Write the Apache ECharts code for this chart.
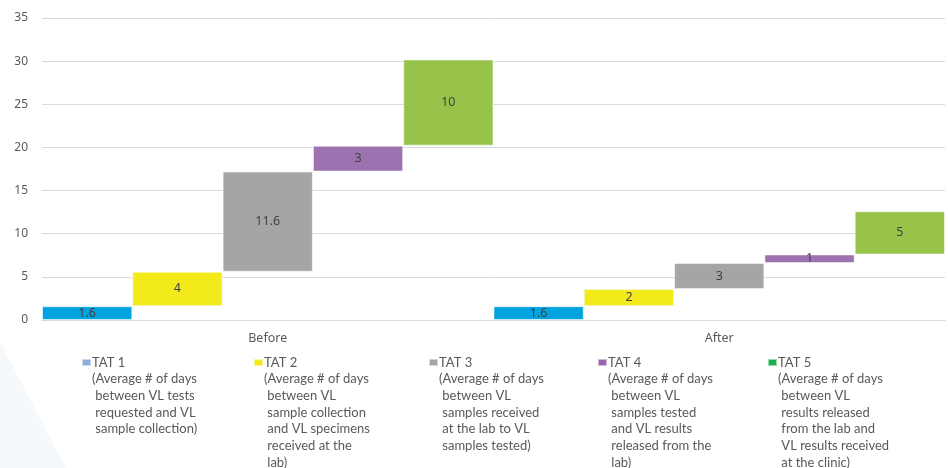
<!DOCTYPE html>
<html><head><meta charset="utf-8">
<script src="https://cdn.jsdelivr.net/npm/echarts@6/dist/echarts.min.js"></script>
<style>html,body{margin:0;padding:0;background:#fff}#c{width:948px;height:468px}</style>
</head><body><div id="c"></div>
<script>
const categories = ['Before', 'After'];
const seriesNames = ['TAT 1', 'TAT 2', 'TAT 3', 'TAT 4', 'TAT 5'];
const tat1 = [1.6, 1.6];
const tat2 = [4, 2];
const tat3 = [11.6, 3];
const tat4 = [3, 1];
const tat5 = [10, 5];
const yMin = 0, yMax = 35, yInterval = 5;
const descTat1 = ['(Average # of days', ' between VL tests', ' requested and VL', ' sample collection)'];
const descTat2 = ['(Average # of days', ' between VL', ' sample collection', ' and VL specimens', ' received at the', ' lab)'];
const descTat3 = ['(Average # of days', ' between VL', ' samples received', ' at the lab to VL', ' samples tested)'];
const descTat4 = ['(Average # of days', ' between VL', ' samples tested', ' and VL results', ' released from the', ' lab)'];
const descTat5 = ['(Average # of days', ' between VL', ' results released', ' from the lab and', ' VL results received', ' at the clinic)'];

const values = [tat1, tat2, tat3, tat4, tat5];
const descs = [descTat1, descTat2, descTat3, descTat4, descTat5];
const barColors = ['#00A3E0', '#F2EA1B', '#A5A5A5', '#9C73B0', '#97C34B'];
const legendColors = ['#8FAADC', '#F2EA1B', '#A5A5A5', '#9C62AE', '#1EB04E'];
const legendLeft = [81, 253, 428, 597, 767];
const LH = 16.7;
const ICON_MID = 362.5;

const series = [];
values.forEach((vals, i) => {
  const base = categories.map((c, k) => {
    let s = 0;
    for (let j = 0; j < i; j++) s += values[j][k];
    return +s.toFixed(4);
  });
  series.push({
    type: 'bar', name: 'base' + i, stack: 's' + i, data: base, silent: true,
    itemStyle: { color: 'transparent' }, barGap: '0%', barCategoryGap: '0%',
    emphasis: { disabled: true }
  });
  series.push({
    type: 'bar', name: seriesNames[i], stack: 's' + i, data: vals,
    barGap: '0%', barCategoryGap: '0%',
    itemStyle: { color: barColors[i], borderColor: 'rgba(255,255,255,0.55)', borderWidth: 1 },
    label: { show: true, position: 'inside', color: '#404040', fontSize: 12.5, fontFamily: 'Noto Sans' }
  });
});

const legends = seriesNames.map((n, i) => {
  const nLines = descs[i].length + 1;
  return {
    left: legendLeft[i], top: ICON_MID - (2 * nLines - 1) * LH / 2, padding: 0,
    itemWidth: 9, itemHeight: 7, itemTextGap: 0, icon: 'rect',
    selectedMode: false,
    formatter: name => '\n'.repeat(nLines - 1) + name + '\n' + descs[i].join('\n'),
    textStyle: { fontFamily: 'Lato', fontSize: 13, color: '#595959', lineHeight: LH, padding: [0, 0, 0, -4] },
    data: [{ name: n, itemStyle: { color: legendColors[i] } }]
  };
});

const chart = echarts.init(document.getElementById('c'), null, { renderer: 'canvas' });
chart.setOption({
  animation: false,
  backgroundColor: '#ffffff',
  graphic: [{
    type: 'polygon', z: -10, silent: true,
    shape: { points: [[0, 342], [0, 468], [66, 468]] },
    style: { fill: '#F5F9FC' }
  }],
  grid: { left: 42, right: 3, top: 18, bottom: 148, containLabel: false },
  xAxis: {
    type: 'category', data: categories,
    axisLine: { show: true, lineStyle: { color: '#D9D9D9', width: 1 } },
    axisTick: { show: false },
    axisLabel: { color: '#595959', fontSize: 12.5, fontFamily: 'Noto Sans', margin: 12 }
  },
  yAxis: {
    type: 'value', min: yMin, max: yMax, interval: yInterval,
    axisLine: { show: false }, axisTick: { show: false },
    splitLine: { lineStyle: { color: '#D9D9D9', width: 1 } },
    axisLabel: { color: '#595959', fontSize: 12, fontFamily: 'Noto Sans', margin: 14 }
  },
  legend: legends,
  series: series
});
</script></body></html>
